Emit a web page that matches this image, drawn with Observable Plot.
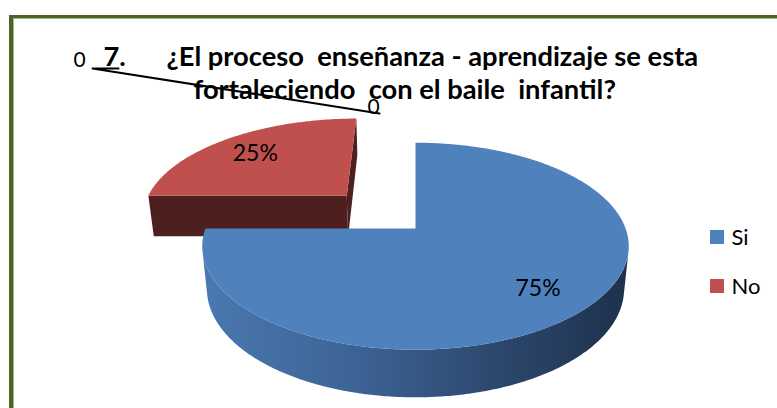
<!DOCTYPE html>
<html><head><meta charset="utf-8">
<script src="https://cdn.jsdelivr.net/npm/d3@7"></script>
<script src="https://cdn.jsdelivr.net/npm/@observablehq/plot@0.6"></script>
<style>
html,body{margin:0;padding:0;background:#fff;}
#wrap{position:relative;width:777px;height:408px;overflow:hidden;}
#chart{position:absolute;left:0;top:0;}
#frame{position:absolute;left:9px;top:15px;width:800px;height:420px;border-left:4px solid #4f6228;border-top:3px solid #4f6228;pointer-events:none;}
#frame2{position:absolute;left:0;top:0;right:0;bottom:0;border-left:1px solid #a3bb7c;border-top:1px solid #a3bb7c;}
</style></head>
<body><div id="wrap"><div id="chart"></div><div id="frame"><div id="frame2"></div></div></div>
<script>
// ---- data ----
const categories = ["Si", "No"];
const values = [75, 25];
const topColors = ["#4f81bd", "#c0504d"];
const faceColors = ["#2c4a73", "#4d1f1f"];
const explode = [0, 0.49];
const titleNumber = "7.";
const titleLines = ["¿El proceso  enseñanza - aprendizaje se esta", "fortaleciendo  con el baile  infantil?"];
const strayLabels = ["0", "0"];

// ---- layout / camera ----
const W = 777, H = 408;
const tilt = Math.asin(0.478), cosT = Math.cos(tilt), sinT = Math.sin(tilt);
const camD = 5.14, focal = 1080, originX = 415, originY = 228, thick = 0.234;
const camPos = {X: 0, Z: -camD * cosT};
function proj(X, Y, Z) {
  const yc = Y * cosT + Z * sinT, zc = camD + Z * cosT - Y * sinT;
  return {x: originX + focal * X / zc, y: originY - focal * yc / zc};
}
const arcs = d3.pie().sort(null).startAngle(0).endAngle(2 * Math.PI)(values);
const total = d3.sum(values);
const slices = arcs.map((a, i) => {
  const mid = (a.startAngle + a.endAngle) / 2;
  return {...a, i, mid, ox: explode[i] * Math.sin(mid), oz: explode[i] * Math.cos(mid)};
});
const angles = (a0, a1) => { const n = Math.max(2, Math.ceil((a1 - a0) / 0.01)); return d3.range(n + 1).map(k => a0 + (a1 - a0) * k / n); };
const rim = (sl, p, Y) => proj(sl.ox + Math.sin(p), Y, sl.oz + Math.cos(p));
const apex = (sl, Y) => proj(sl.ox, Y, sl.oz);

const faces = [];
slices.slice().sort((p, q) => (q.oz + Math.cos(q.mid)) - (p.oz + Math.cos(p.mid))).forEach(sl => {
  const a0 = sl.startAngle, a1 = sl.endAngle, i = sl.i;
  const ph = angles(a0, a1);
  const vis = ph.map(p => {
    const px = sl.ox + Math.sin(p), pz = sl.oz + Math.cos(p);
    return (camPos.X - px) * Math.sin(p) + (camPos.Z - pz) * Math.cos(p) > 0;
  });
  let run = [];
  const flush = () => {
    if (run.length > 1) faces.push({kind: "side", i, pts: [...run.map(p => rim(sl, p, 0)), ...run.slice().reverse().map(p => rim(sl, p, -thick))]});
    run = [];
  };
  ph.forEach((p, k) => { if (vis[k]) run.push(p); else flush(); });
  flush();
  [[a0, -1], [a1, 1]].forEach(([a, sg]) => {
    const nx = sg * Math.cos(a), nz = -sg * Math.sin(a);
    const px = sl.ox + 0.5 * Math.sin(a), pz = sl.oz + 0.5 * Math.cos(a);
    if ((camPos.X - px) * nx + (camPos.Z - pz) * nz > 1e-6)
      faces.push({kind: "radial", i, pts: [apex(sl, 0), rim(sl, a, 0), rim(sl, a, -thick), apex(sl, -thick)]});
  });
  faces.push({kind: "top", i, pts: [apex(sl, 0), ...angles(a0, a1).map(p => rim(sl, p, 0))]});
});

const blueSide = faces.find(f => f.kind === "side" && f.i === 0);
const gx = d3.extent(blueSide ? blueSide.pts : [{x: 0}, {x: W}], d => d.x);
const fillOf = f => f.kind === "top" ? topColors[f.i] : (f.kind === "side" && f.i === 0 ? "url(#blueSide)" : faceColors[f.i]);

const labelR = 0.75;
const labels = slices.map(sl => ({...proj(sl.ox + labelR * Math.sin(sl.mid), 0, sl.oz + labelR * Math.cos(sl.mid)), text: Math.round(sl.value / total * 100) + "%"}));

const ctx = document.createElement("canvas").getContext("2d");
ctx.font = "bold 100px Lato";
const titleSize = 100 * 532 / ctx.measureText(titleLines[0]).width;

const defs = () => {
  const d = d3.create("svg:defs");
  const g = d.append("linearGradient").attr("id", "blueSide").attr("gradientUnits", "userSpaceOnUse")
    .attr("x1", gx[0]).attr("x2", gx[1]).attr("y1", 0).attr("y2", 0);
  [[0, "#4a78b0"], [0.35, "#3d6496"], [0.7, "#2c476c"], [1, "#1e314d"]].forEach(([o, c]) => g.append("stop").attr("offset", o).attr("stop-color", c));
  return d.node();
};

const legendRows = categories.map((c, i) => ({c, i, y: 237 + 49 * i}));

const plot = Plot.plot({
  width: W, height: H, margin: 0,
  x: {domain: [0, W], range: [0, W], axis: null},
  y: {domain: [0, H], range: [0, H], axis: null},
  style: {background: "transparent"},
  marks: [
    defs,
    ...faces.map(f => Plot.line(f.pts, {x: "x", y: "y", fill: fillOf(f), stroke: "none", curve: "linear-closed"})),
    Plot.text(labels, {x: "x", y: "y", dy: 2, text: "text", fontSize: 23, fontFamily: "Lato", fill: "#000", textAnchor: "middle", lineAnchor: "middle"}),
    Plot.text([titleNumber], {x: () => 103, y: () => 65, text: d => d, fontSize: titleSize, fontWeight: "bold", fontFamily: "Lato", fill: "#000", textAnchor: "start", lineAnchor: "bottom"}),
    Plot.text(titleLines, {x: (d, i) => [166, 193][i], y: (d, i) => [65, 98][i], text: d => d, fontSize: titleSize, fontWeight: "bold", fontFamily: "Lato", fill: "#000", textAnchor: "start", lineAnchor: "bottom"}),
    Plot.text(strayLabels, {x: (d, i) => [79, 373][i], y: (d, i) => [66, 113][i], text: d => d, fontSize: 21, fontFamily: "Lato", fill: "#000", textAnchor: "middle", lineAnchor: "bottom"}),
    Plot.line([{x: 118, y: 68}, {x: 92, y: 68}, {x: 379, y: 113}], {x: "x", y: "y", stroke: "#000", strokeWidth: 2}),
    Plot.rect(legendRows, {x1: () => 710, x2: () => 724, y1: d => d.y - 7, y2: d => d.y + 7, fill: d => topColors[d.i]}),
    Plot.text(legendRows, {x: () => 731, y: "y", text: "c", fontSize: 22, fontFamily: "Lato", fill: "#000", textAnchor: "start", lineAnchor: "middle"})
  ]
});
document.getElementById("chart").appendChild(plot);
</script>
</body></html>
